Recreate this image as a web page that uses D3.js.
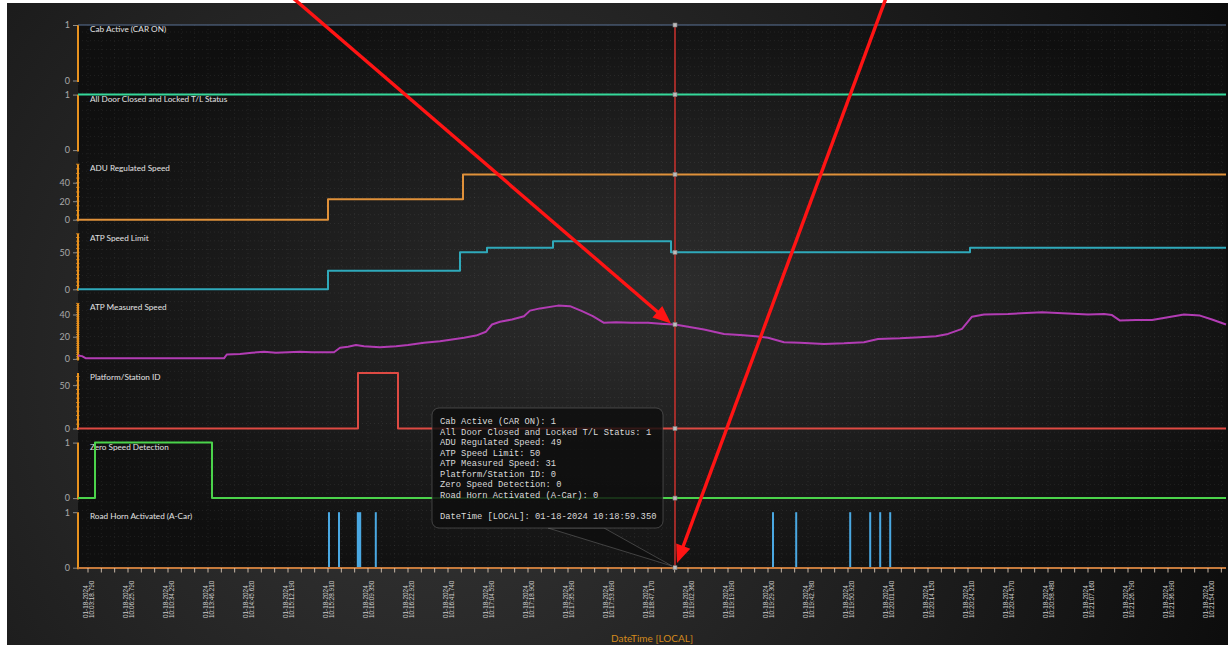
<!DOCTYPE html>
<html>
<head>
<meta charset="utf-8">
<script src="https://cdn.jsdelivr.net/npm/d3@7"></script>
<style>
  html, body { margin: 0; padding: 0; background: #ffffff; }
  svg { display: block; }
</style>
</head>
<body>
<svg id="chart" width="1231" height="645"></svg>
<script>
// ---- x axis: sample positions 0..28 carry these timestamps ----
const tickDate = "01-18-2024";
const tickTimes = [
  "10:03:18.790", "10:06:25.790", "10:10:34.290", "10:13:46.210", "10:14:45.620",
  "10:15:12.190", "10:15:28.910", "10:16:09.350", "10:16:22.920", "10:16:41.740",
  "10:17:04.590", "10:17:18.900", "10:17:35.390", "10:17:53.690", "10:18:47.170",
  "10:19:02.360", "10:19:19.090", "10:19:29.300", "10:19:42.780", "10:19:50.920",
  "10:20:01.040", "10:20:14.150", "10:20:24.210", "10:20:44.570", "10:20:58.480",
  "10:21:07.160", "10:21:26.790", "10:21:36.990", "10:21:54.000"
];
const positionRange = [-0.25, 28.45];

// ---- signal names, top to bottom ----
const signalNames = [
  "Cab Active (CAR ON)",
  "All Door Closed and Locked T/L Status",
  "ADU Regulated Speed",
  "ATP Speed Limit",
  "ATP Measured Speed",
  "Platform/Station ID",
  "Zero Speed Detection",
  "Road Horn Activated (A-Car)"
];

// ---- series values: [sample position, value] ----
const cabActive   = [[-0.25, 1], [28.45, 1]];
const doorsClosed = [[-0.25, 1], [28.45, 1]];
const aduSpeed    = [[-0.25, 0], [6.0, 22], [9.375, 49], [28.45, 49]];
const atpLimit    = [[-0.25, 0], [6.0, 25], [9.3, 50], [9.975, 56], [11.625, 65],
                     [14.575, 50], [22.05, 56], [28.45, 56]];
const atpMeasured = [
  [-0.25, 3], [-0.15, 2.5], [-0.05, 0.5], [1.5, 0.5], [3.4, 0.5], [3.47, 4],
  [3.8, 4.5], [4.1, 5.5], [4.4, 6.5], [4.7, 5.5], [5.0, 6], [5.3, 6.5], [5.6, 6],
  [6.15, 6], [6.3, 10], [6.5, 11], [6.7, 12.5], [6.9, 11.5], [7.3, 10.5], [7.7, 11.5],
  [8.0, 12.5], [8.4, 14.5], [8.8, 16], [9.1, 17.5], [9.4, 19], [9.7, 21], [9.95, 24.5],
  [10.1, 31], [10.3, 33.5], [10.6, 35.5], [10.9, 38.5], [11.05, 43.5], [11.3, 45.5],
  [11.75, 48], [12.05, 47.5], [12.35, 43], [12.62, 38.5], [12.9, 32.5], [13.2, 33],
  [13.6, 32.5], [14.0, 32.5], [14.4, 31.5], [14.675, 31], [15.0, 29], [15.4, 26.5],
  [15.9, 22.5], [16.3, 21.5], [16.7, 20.5], [17.0, 19], [17.4, 15], [17.8, 14.5],
  [18.4, 13.5], [18.9, 14], [19.4, 15], [19.75, 18], [20.3, 18.5], [20.8, 19.5],
  [21.2, 20.5], [21.5, 22.5], [21.85, 27], [22.1, 38], [22.4, 40], [23.0, 40.5],
  [23.85, 42], [24.5, 41], [25.0, 40], [25.4, 40.5], [25.6, 39.5], [25.8, 34.5],
  [26.2, 35], [26.6, 35], [27.0, 37.5], [27.4, 40], [27.8, 39], [28.1, 35.5], [28.45, 31]
];
const stationId   = [[-0.25, 0], [6.75, 64], [7.75, 0], [28.45, 0]];
const zeroSpeed   = [[-0.25, 0], [0.175, 1], [3.1, 0], [28.45, 0]];
// horn activations: [start position, end position]
const hornPulses  = [
  [6.0, 6.05], [6.25, 6.3], [6.72, 6.83], [7.17, 7.22],
  [17.1, 17.15], [17.68, 17.73], [19.03, 19.08], [19.53, 19.58], [19.78, 19.83], [20.03, 20.08]
];

// ---- per-panel value ranges and tick values ----
const panelMax   = [1, 1, 60, 75, 50, 64, 1, 1];
const panelTicks = [[0, 1], [0, 1], [0, 20, 40], [0, 50], [0, 20, 40], [0, 50], [0, 1], [0, 1]];
const panelColors = ["#5a7396", "#35d89a", "#e0913a", "#2fa9ba", "#b23cb4", "#de4a43", "#4bd34b", "#4aa8e2"];

// ---- inspected sample ----
const cursorPos = 14.675;
const cursorStamp = "01-18-2024 10:18:59.350";

// ------------------------------------------------------------------
const W = 1231, H = 645;
const plot = { left: 78, right: 1226, top: 25, bottom: 568 };
const panelStep = 69.6, panelHeight = 55.5;
const axisOrange = "#e8921f";

const svg = d3.select("#chart");
const defs = svg.append("defs");

const bgGrad = defs.append("radialGradient").attr("id", "bgGrad")
  .attr("gradientUnits", "userSpaceOnUse").attr("cx", 430).attr("cy", 360).attr("r", 880);
bgGrad.append("stop").attr("offset", 0).attr("stop-color", "#383838");
bgGrad.append("stop").attr("offset", 1).attr("stop-color", "#0b0b0b");

const plotGrad = defs.append("radialGradient").attr("id", "plotGrad")
  .attr("cx", 0.5).attr("cy", 0.5).attr("r", 0.58);
plotGrad.append("stop").attr("offset", 0).attr("stop-color", "#2e2e2e");
plotGrad.append("stop").attr("offset", 1).attr("stop-color", "#0f0f0f");

// frame and plot backgrounds
svg.append("rect").attr("x", 7).attr("y", 3).attr("width", 1221).attr("height", H - 3)
  .attr("fill", "url(#bgGrad)");
svg.append("rect").attr("x", plot.left).attr("y", plot.top)
  .attr("width", plot.right - plot.left).attr("height", plot.bottom - plot.top)
  .attr("fill", "url(#plotGrad)");

const x = d3.scaleLinear().domain(positionRange).range([plot.left, plot.right]);

// dotted background grid
const grid = svg.append("g").attr("stroke", "rgba(255,255,255,0.07)")
  .attr("stroke-width", 1).attr("stroke-dasharray", "1,3");
const minorPositions = d3.range(0, 28.4, 1 / 3);
grid.selectAll("line.v").data(minorPositions).join("line")
  .attr("x1", d => x(d)).attr("x2", d => x(d))
  .attr("y1", plot.top).attr("y2", plot.bottom);
grid.selectAll("line.h").data(d3.range(plot.top + 7, plot.bottom, 8.7)).join("line")
  .attr("x1", plot.left).attr("x2", plot.right)
  .attr("y1", d => d).attr("y2", d => d);

// y scale for each panel
const yScales = panelMax.map((m, k) => {
  const top = plot.top + k * panelStep;
  return d3.scaleLinear().domain([0, m]).range([top + panelHeight, top]);
});

const series = [cabActive, doorsClosed, aduSpeed, atpLimit, atpMeasured, stationId, zeroSpeed];

function valueAt(data, pos, stepped) {
  let i = d3.bisector(d => d[0]).right(data, pos) - 1;
  i = Math.max(0, Math.min(i, data.length - 1));
  if (stepped || i === data.length - 1) return data[i][1];
  const a = data[i], b = data[i + 1];
  return a[1] + (b[1] - a[1]) * (pos - a[0]) / (b[0] - a[0]);
}
function hornAt(pos) {
  return hornPulses.some(p => pos >= p[0] && pos <= p[1]) ? 1 : 0;
}

// panel axes and labels
yScales.forEach((y, k) => {
  const [y0, y1] = y.range();
  const g = svg.append("g");
  g.append("line").attr("x1", plot.left).attr("x2", plot.left)
    .attr("y1", y1).attr("y2", y0 + 1.5)
    .attr("stroke", axisOrange).attr("stroke-width", 2);
  if (panelMax[k] > 1) {
    g.selectAll("line.minor").data(y.ticks(16)).join("line")
      .attr("x1", plot.left - 2).attr("x2", plot.left + 1.5)
      .attr("y1", d => y(d)).attr("y2", d => y(d))
      .attr("stroke", axisOrange).attr("stroke-width", 0.8);
  }
  const axis = d3.axisLeft(y).tickValues(panelTicks[k]).tickFormat(d3.format("d"))
    .tickSize(4).tickPadding(3);
  const ag = g.append("g").attr("transform", `translate(${plot.left - 1},0)`).call(axis);
  ag.select(".domain").remove();
  ag.selectAll(".tick line").attr("stroke", "#8a8a8a");
  ag.selectAll(".tick text").attr("fill", "#a9a9a9")
    .style("font-family", "Lato, 'Open Sans', sans-serif").style("font-size", "9px");
  g.append("text").attr("x", plot.left + 12).attr("y", y1 + 7)
    .attr("fill", "#e2e2e2")
    .style("font-family", "Lato, 'Open Sans', sans-serif").style("font-size", "8.2px")
    .text(signalNames[k]);
});

// series lines
const lineGen = (y, curve) => d3.line().x(d => x(d[0])).y(d => y(d[1])).curve(curve);
series.forEach((data, k) => {
  const stepped = k !== 4;
  svg.append("path").datum(data)
    .attr("fill", "none")
    .attr("stroke", panelColors[k])
    .attr("stroke-width", k === 0 ? 1.2 : 2)
    .attr("stroke-linejoin", "round")
    .attr("d", lineGen(yScales[k], stepped ? d3.curveStepAfter : d3.curveLinear));
});

// horn activations
const yHorn = yScales[7];
svg.append("g").selectAll("rect").data(hornPulses).join("rect")
  .attr("x", d => x(d[0]))
  .attr("width", d => Math.max(2, x(d[1]) - x(d[0])))
  .attr("y", yHorn(1))
  .attr("height", yHorn(0) - yHorn(1))
  .attr("fill", panelColors[7]);

// x axis
const xAxisG = svg.append("g");
xAxisG.append("line").attr("x1", plot.left).attr("x2", plot.right)
  .attr("y1", plot.bottom).attr("y2", plot.bottom)
  .attr("stroke", "#c57a3c").attr("stroke-width", 2.2);
xAxisG.selectAll("line.tk").data(minorPositions).join("line")
  .attr("x1", d => x(d)).attr("x2", d => x(d))
  .attr("y1", plot.bottom).attr("y2", plot.bottom + 4.5)
  .attr("stroke", "#d9c6b4").attr("stroke-width", 0.9);

const tickLabel = xAxisG.selectAll("g.lbl").data(tickTimes).join("g")
  .attr("transform", (d, i) => `translate(${x(i)},618) rotate(-90)`)
  .style("font-family", "'Liberation Sans', Arial, sans-serif")
  .style("font-size", "6.4px")
  .attr("fill", "#cdcdcd");
tickLabel.append("text").attr("x", 0).attr("y", -0.3).text(tickDate);
tickLabel.append("text").attr("x", 0).attr("y", 6.0).text(d => d);

svg.append("text").attr("x", (plot.left + plot.right) / 2).attr("y", 642)
  .attr("text-anchor", "middle").attr("fill", "#d48a1c")
  .style("font-family", "Lato, 'Open Sans', sans-serif").style("font-size", "10px")
  .text("DateTime [LOCAL]");

// crosshair at the inspected sample
const cx = x(cursorPos);
svg.append("line").attr("x1", cx).attr("x2", cx).attr("y1", plot.top).attr("y2", plot.bottom)
  .attr("stroke", "#c0302c").attr("stroke-width", 1.6);

const cursorValues = series.map((data, k) => valueAt(data, cursorPos, k !== 4));
cursorValues.push(hornAt(cursorPos));
svg.append("g").selectAll("rect").data(cursorValues).join("rect")
  .attr("x", cx - 2).attr("y", (d, k) => yScales[k](d) - 2)
  .attr("width", 4).attr("height", 4)
  .attr("fill", "#bdbdbd").attr("stroke", "#7a7a7a").attr("stroke-width", 0.6);

// tooltip with pointer to the crosshair foot
const tipX = cx - 3, tipY = plot.bottom - 2;
const box = { right: tipX - 9, bottom: tipY - 38, width: 231, height: 120 };
box.left = box.right - box.width;
box.top = box.bottom - box.height;
const tip = svg.append("g");
tip.append("path")
  .attr("d", `M${box.left + 116},${box.bottom} L${tipX},${tipY} L${box.left + 172},${box.bottom} Z`)
  .attr("fill", "rgba(14,14,14,0.85)").attr("stroke", "rgba(120,120,120,0.6)").attr("stroke-width", 0.8);
tip.append("rect").attr("x", box.left).attr("y", box.top)
  .attr("width", box.width).attr("height", box.height).attr("rx", 7)
  .attr("fill", "rgba(14,14,14,0.82)").attr("stroke", "rgba(120,120,120,0.6)").attr("stroke-width", 0.8);

const tipLines = signalNames.map((n, k) => `${n}: ${Math.round(cursorValues[k])}`);
tipLines.push("");
tipLines.push(`DateTime [LOCAL]: ${cursorStamp}`);
tip.append("g").selectAll("text").data(tipLines).join("text")
  .attr("x", box.left + 8)
  .attr("y", (d, i) => box.top + 16 + i * 10.5)
  .attr("fill", "#d9d9d9")
  .style("font-family", "'Liberation Mono', 'DejaVu Sans Mono', monospace")
  .style("font-size", "8.8px")
  .attr("xml:space", "preserve")
  .text(d => d);

// red call-out arrows
function arrow(x0, y0, x1, y1) {
  const dx = x1 - x0, dy = y1 - y0, len = Math.hypot(dx, dy);
  const ux = dx / len, uy = dy / len, hl = 18, hw = 7.5;
  const bx = x1 - ux * hl, by = y1 - uy * hl;
  svg.append("line").attr("x1", x0).attr("y1", y0).attr("x2", bx + ux * 2).attr("y2", by + uy * 2)
    .attr("stroke", "#ff1414").attr("stroke-width", 3.4);
  svg.append("path")
    .attr("d", `M${x1},${y1} L${bx - uy * hw},${by + ux * hw} L${bx + uy * hw},${by - ux * hw} Z`)
    .attr("fill", "#ff1414");
}
const measuredTipY = yScales[4](cursorValues[4]);
arrow(cx - 382, -2, cx - 4, measuredTipY - 1);
arrow(cx + 211, -2, cx + 2, plot.bottom - 5);
</script>
</body>
</html>
